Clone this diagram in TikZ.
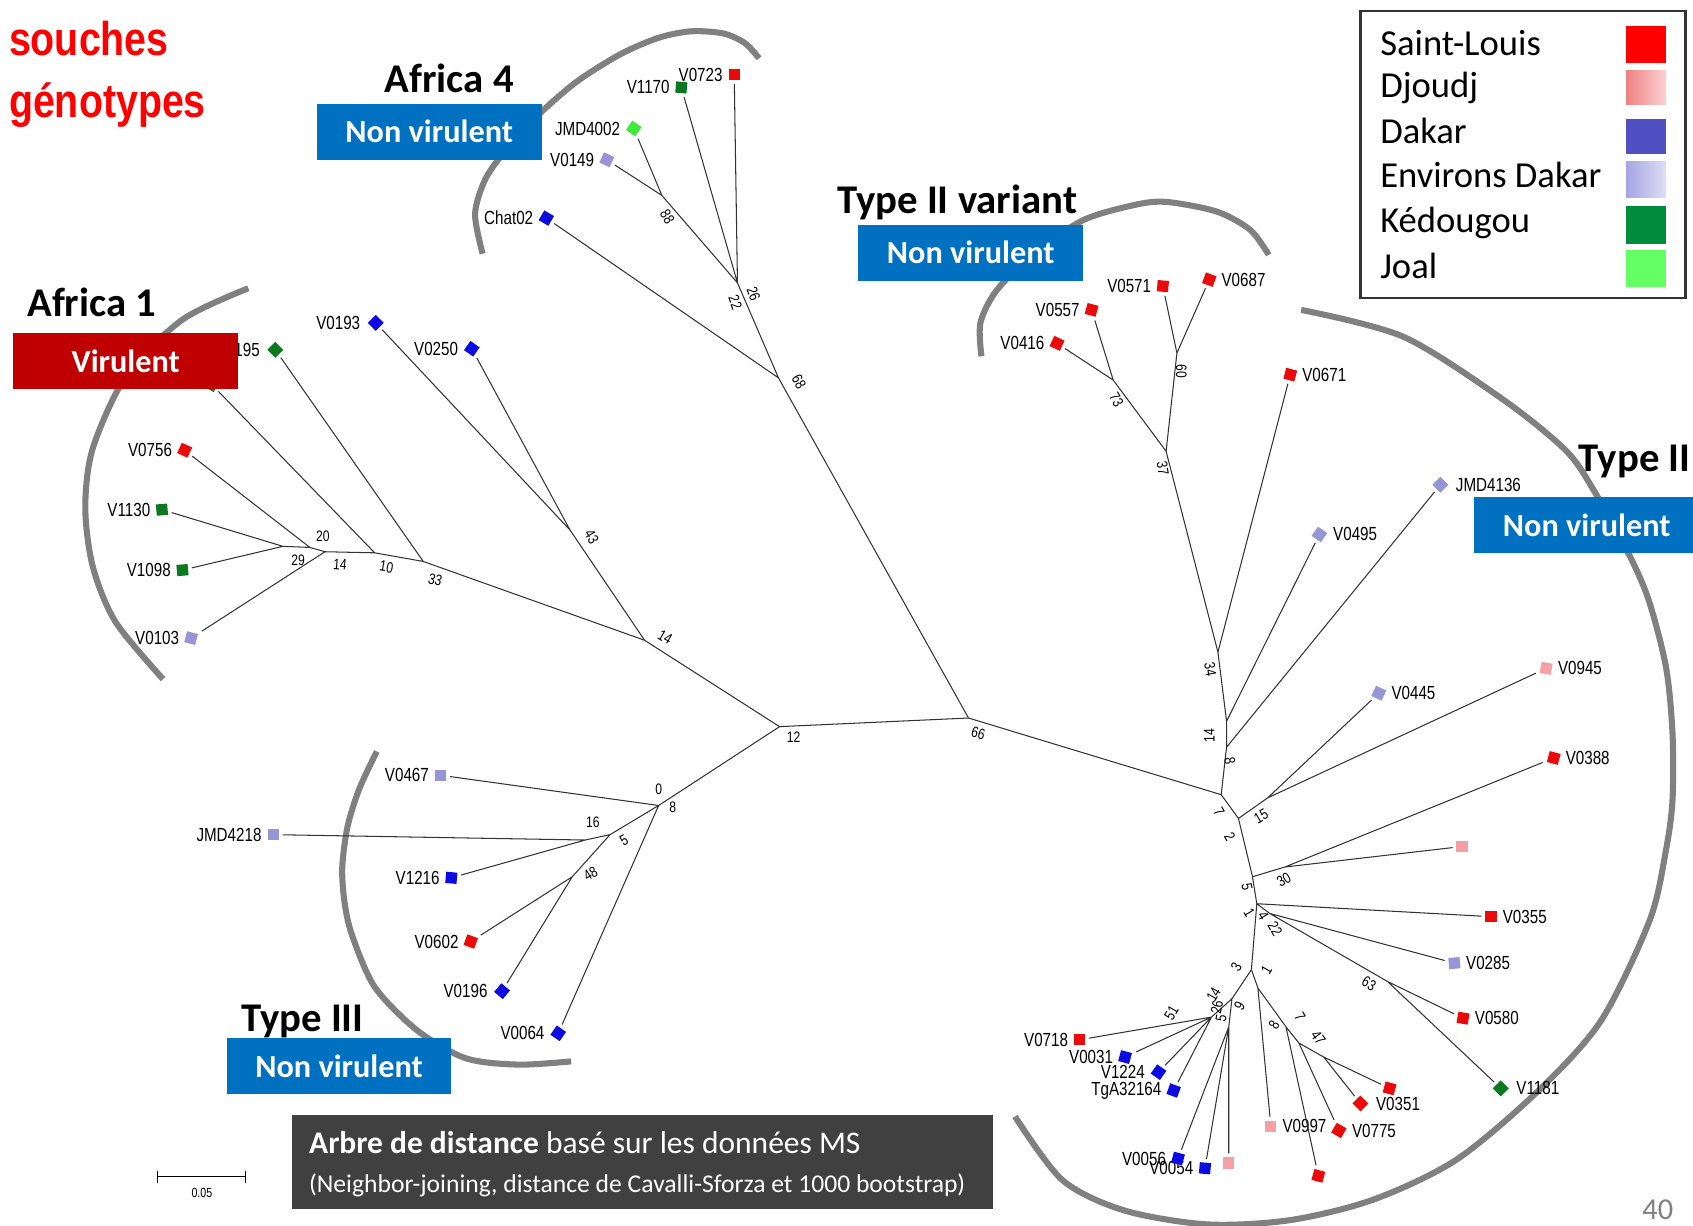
\documentclass[tikz,border=0pt]{standalone}
\usepackage{fontspec}
\setmainfont{Carlito}
\newfontfamily\leaffont[FakeStretch=0.8]{Liberation Sans}
\newfontfamily\condfont[FakeStretch=0.83]{Liberation Sans}
\usetikzlibrary{shapes.geometric}
\definecolor{slred}{RGB}{235,10,10}
\definecolor{djpink}{RGB}{245,160,165}
\definecolor{dkblue}{RGB}{10,10,225}
\definecolor{edlav}{RGB}{150,150,215}
\definecolor{kdgreen}{RGB}{10,120,30}
\definecolor{jogreen}{RGB}{60,235,60}
\definecolor{nvblue}{RGB}{0,112,192}
\definecolor{virred}{RGB}{192,0,0}
\definecolor{cladegray}{RGB}{128,128,128}
\definecolor{capgray}{RGB}{64,64,64}
\definecolor{legdjA}{RGB}{238,130,130}
\definecolor{legdjB}{RGB}{250,210,210}
\definecolor{legdk}{RGB}{80,80,195}
\definecolor{legedA}{RGB}{165,165,228}
\definecolor{legedB}{RGB}{222,222,245}
\definecolor{legkd}{RGB}{0,140,60}
\definecolor{legjo}{RGB}{100,255,100}
\tikzset{
	mk/.style={regular polygon, regular polygon sides=4, minimum size=8.4pt, inner sep=0pt, outer sep=2pt},
	tilt/.style={shape border rotate=45+#1},
	sl/.style={mk, fill=slred},
	dj/.style={mk, fill=djpink},
	dk/.style={mk, fill=dkblue},
	ed/.style={mk, fill=edlav},
	kd/.style={mk, fill=kdgreen},
	jo/.style={mk, fill=jogreen},
	lab/.style={font=\leaffont\fontsize{10}{10}\selectfont, inner sep=1pt},
	bs/.style={font=\leaffont\fontsize{8}{8}\selectfont, inner sep=0pt},
	br/.style={line width=0.55pt, black!80},
	clade/.style={line width=3.2pt, cladegray},
	nvbox/.style={fill=nvblue, text=white, font=\bfseries\fontsize{17}{17}\selectfont, minimum width=118.5pt, minimum height=29.5pt, inner sep=0pt},
	virbox/.style={nvbox, fill=virred},
	ttl/.style={font=\bfseries\fontsize{21.5}{22}\selectfont, anchor=base west, inner sep=0pt},
	legtxt/.style={font=\fontsize{19.3}{19}\selectfont, anchor=base west, inner sep=0pt}
}
\begin{document}
\begin{tikzpicture}[x=0.02cm, y=-0.02cm]
	\useasboundingbox (0,0) rectangle (1568,1135);
	% clade brackets
	\draw[clade] plot[smooth] coordinates {(230,267) (169,296) (117,348) (86,415) (79,470) (86,525) (107,576) (151,629)};
	\draw[clade] plot[smooth] coordinates {(447,235) (440,198) (450,165) (471,136) (500,105) (535,75) (575,50) (610,35) (640,29) (670,31) (690,40) (703,54)};
	\draw[clade] plot[smooth] coordinates {(909,330) (908,299) (923,269) (957,235) (1003,204) (1050,190) (1080,187) (1127,196) (1158,213) (1175,236)};
	\draw[clade] plot[smooth] coordinates {(349,696) (333,730) (322,765) (317,803) (319,835) (326,866) (347,914) (386,954) (431,980) (480,986) (529,983)};
	\draw[clade] plot[smooth] coordinates {(1205,287) (1300,312) (1392,370) (1450,417) (1476,454) (1508,512) (1527,556) (1543,618) (1549,679) (1549,741) (1543,787) (1528,852) (1483,945) (1425,1010) (1349,1074) (1272,1111) (1195,1130) (1118,1134) (1041,1121) (984,1093) (940,1034)};

	% inner nodes
	\coordinate (n12) at (722,673);
	\coordinate (n66) at (897,665);
	\coordinate (n14) at (597,593);
	\coordinate (n43) at (528,491);
	\coordinate (n68) at (721,350);
	\coordinate (a1) at (262,506);
	\coordinate (a2) at (287,507);
	\coordinate (a3) at (301,511);
	\coordinate (a4) at (347,512);
	\coordinate (a5) at (392,520);
	\coordinate (b88) at (613,181);
	\coordinate (b26) at (683,262);
	\coordinate (c73) at (1031,352);
	\coordinate (c60) at (1090,327);
	\coordinate (c37) at (1080,418);
	\coordinate (c34) at (1128,604);
	\coordinate (c14) at (1136,668);
	\coordinate (c8) at (1136,692);
	\coordinate (n7) at (1131,736);
	\coordinate (n2) at (1147,758);
	\coordinate (d15) at (1174,739);
	\coordinate (d30) at (1190,803);
	\coordinate (n5) at (1160,812);
	\coordinate (n4) at (1164,837);
	\coordinate (d22) at (1176,846);
	\coordinate (d63) at (1285,909);
	\coordinate (n3) at (1159,898);
	\coordinate (e6) at (1141,925);
	\coordinate (eK) at (1122,942);
	\coordinate (e9) at (1138,951);
	\coordinate (f1) at (1165,915);
	\coordinate (f8) at (1191,951);
	\coordinate (f7) at (1203,966);
	\coordinate (f47) at (1226,979);
	\coordinate (g0) at (610,746);
	\coordinate (g16) at (565,773);
	\coordinate (gJ) at (542,778);
	\coordinate (g48) at (530,812);

	% Africa 1
	\node[kd, tilt=15] (hid) at (196,356) {};
	\node[kd, tilt=0, label={[lab]left:195}] (v195) at (255,324) {};
	\node[sl, tilt=20, label={[lab]left:V0756}] (v0756) at (171,417) {};
	\node[kd, tilt=50, label={[lab]left:V1130}] (v1130) at (150,472) {};
	\node[kd, tilt=50, label={[lab]left:V1098}] (v1098) at (169,528) {};
	\node[ed, tilt=30, label={[lab]left:V0103}] (v0103) at (177,591) {};
	\node[dk, tilt=0, label={[lab]left:V0193}] (v0193) at (348,299) {};
	\node[dk, tilt=10, label={[lab]left:V0250}] (v0250) at (437,323) {};
	% Africa 4
	\node[dk, tilt=15, label={[lab]left:Chat02}] (chat02) at (506,202) {};
	\node[ed, tilt=20, label={[lab]left:V0149}] (v0149) at (562,148) {};
	\node[jo, tilt=10, label={[lab]left:JMD4002}] (jmd4002) at (587,119) {};
	\node[sl, tilt=45, label={[lab]left:V0723}] (v0723) at (680,69) {};
	\node[kd, tilt=40, label={[lab]left:V1170}] (v1170) at (631,81) {};
	% Type II variant
	\node[sl, tilt=20, label={[lab]left:V0416}] (v0416) at (979,318) {};
	\node[sl, tilt=30, label={[lab]left:V0557}] (v0557) at (1011,287) {};
	\node[sl, tilt=40, label={[lab]left:V0571}] (v0571) at (1077,265) {};
	\node[sl, tilt=25, label={[lab]right:V0687}] (v0687) at (1120,259) {};
	% Type II
	\node[sl, tilt=30, label={[lab]right:V0671}] (v0671) at (1195,347) {};
	\node[ed, tilt=0, label={[lab]right:JMD4136}] (jmd4136) at (1334,449) {};
	\node[ed, tilt=10, label={[lab]right:V0495}] (v0495) at (1222,495) {};
	\node[ed, tilt=20, label={[lab]right:V0445}] (v0445) at (1277,642) {};
	\node[dj, tilt=35, label={[lab]right:V0945}] (v0945) at (1432,619) {};
	\node[sl, tilt=30, label={[lab]right:V0388}] (v0388) at (1439,702) {};
	\node[dj, tilt=45] (djx1) at (1354,784) {};
	\node[sl, tilt=45, label={[lab]right:V0355}] (v0355) at (1381,849) {};
	\node[ed, tilt=50, label={[lab]right:V0285}] (v0285) at (1347,892) {};
	\node[sl, tilt=35, label={[lab]right:V0580}] (v0580) at (1355,943) {};
	\node[kd, tilt=0, label={[lab]right:V1181}] (v1181) at (1390,1008) {};
	\node[sl, tilt=30] (slx1) at (1287,1008) {};
	\node[sl, tilt=0, label={[lab]right:V0351}] (v0351) at (1260,1022) {};
	\node[sl, tilt=15, label={[lab]right:V0775}] (v0775) at (1240,1047) {};
	\node[sl, tilt=30] (slx2) at (1221,1089) {};
	\node[dj, tilt=45, label={[lab]right:V0997}] (v0997) at (1177,1043) {};
	\node[dj, tilt=45] (djx2) at (1138,1077) {};
	\node[dk, tilt=40, label={[lab]left:V0054}] (v0054) at (1116,1082) {};
	\node[dk, tilt=30, label={[lab]left:V0056}] (v0056) at (1091,1073) {};
	\node[dk, tilt=25, label={[lab]left:TgA32164}] (tga) at (1087,1010) {};
	\node[dk, tilt=10, label={[lab]left:V1224}] (v1224) at (1073,993) {};
	\node[dk, tilt=30, label={[lab]left:V0031}] (v0031) at (1042,979) {};
	\node[sl, tilt=45, label={[lab]left:V0718}] (v0718) at (1000,963) {};
	% Type III
	\node[ed, tilt=45, label={[lab]left:V0467}] (v0467) at (408,718) {};
	\node[ed, tilt=45, label={[lab]left:JMD4218}] (jmd4218) at (253,773) {};
	\node[dk, tilt=40, label={[lab]left:V1216}] (v1216) at (418,813) {};
	\node[sl, tilt=25, label={[lab]left:V0602}] (v0602) at (436,872) {};
	\node[dk, tilt=5, label={[lab]left:V0196}] (v0196) at (465,918) {};
	\node[dk, tilt=10, label={[lab]left:V0064}] (v0064) at (517,957) {};

	% branches
	\draw[br] (v1130) -- (a1) (v1098) -- (a1) -- (a2) (v0756) -- (a2) -- (a3) (v0103) -- (a3) -- (a4) (hid) -- (a4) -- (a5) (v195) -- (a5) -- (n14);
	\draw[br] (v0193) -- (n43) (v0250) -- (n43) -- (n14) -- (n12) -- (n66);
	\draw[br] (v0149) -- (b88) (jmd4002) -- (b88) -- (b26) (v1170) -- (b26) (v0723) -- (b26) -- (n68) (chat02) -- (n68) -- (n66);
	\draw[br] (v0416) -- (c73) (v0557) -- (c73) -- (c37) (v0571) -- (c60) (v0687) -- (c60) -- (c37) -- (c34) (v0671) -- (c34) -- (c14) (v0495) -- (c14) -- (c8) (jmd4136) -- (c8) -- (n7) -- (n66);
	\draw[br] (n7) -- (n2) -- (d15) (v0445) -- (d15) (v0945) -- (d15);
	\draw[br] (n2) -- (n5) (v0388) -- (d30) (djx1) -- (d30) -- (n5) -- (n4) (v0355) -- (n4) (v0285) -- (d22) (v0580) -- (d63) (v1181) -- (d63) -- (d22) -- (n4) -- (n3);
	\draw[br] (n3) -- (e6) -- (eK) (v0718) -- (eK) (v0031) -- (eK) (v1224) -- (eK) (tga) -- (eK) (e6) -- (e9) (v0056) -- (e9) (v0054) -- (e9) (djx2) -- (e9);
	\draw[br] (n3) -- (f1) (v0997) -- (f1) -- (f8) (slx2) -- (f8) -- (f7) (v0775) -- (f7) -- (f47) (v0351) -- (f47) (slx1) -- (f47);
	\draw[br] (n12) -- (g0) (v0467) -- (g0) (v0064) -- (g0) -- (g16) -- (gJ) (jmd4218) -- (gJ) (v1216) -- (gJ) (g16) -- (g48) (v0602) -- (g48) (v0196) -- (g48);

	% bootstrap values
	\node[bs] (s20) at (299,497) {20};
	\node[bs] (s29) at (276,519) {29};
	\node[bs, rotate=-5] (s14a) at (315,523) {14};
	\node[bs, rotate=-10] (s10) at (358,525) {10};
	\node[bs, rotate=-15] (s33) at (403,537) {33};
	\node[bs, rotate=-60] (s43) at (548,497) {43};
	\node[bs, rotate=-30] (s14b) at (616,590) {14};
	\node[bs, rotate=-60] (s68) at (740,354) {68};
	\node[bs, rotate=-60] (s88) at (618,201) {88};
	\node[bs, rotate=-70] (s26a) at (698,272) {26};
	\node[bs, rotate=-70] (s22a) at (681,280) {22};
	\node[bs] (s12) at (735,683) {12};
	\node[bs, rotate=-15] (s66) at (906,679) {66};
	\node[bs] (s0) at (610,731) {0};
	\node[bs] (s8a) at (623,748) {8};
	\node[bs] (s16) at (549,762) {16};
	\node[bs, rotate=30] (s5a) at (578,778) {5};
	\node[bs, rotate=30] (s48) at (547,809) {48};
	\node[bs, rotate=-60] (s73) at (1034,370) {73};
	\node[bs, rotate=-90] (s60) at (1094,344) {60};
	\node[bs, rotate=-80] (s37) at (1077,434) {37};
	\node[bs, rotate=-80] (s34) at (1121,620) {34};
	\node[bs, rotate=90] (s14c) at (1120,681) {14};
	\node[bs, rotate=-80] (s8b) at (1139,705) {8};
	\node[bs, rotate=-60] (s7a) at (1129,752) {7};
	\node[bs, rotate=-60] (s2) at (1139,775) {2};
	\node[bs, rotate=30] (s15) at (1168,756) {15};
	\node[bs, rotate=30] (s30) at (1189,815) {30};
	\node[bs, rotate=-80] (s5b) at (1155,821) {5};
	\node[bs, rotate=-60] (s1a) at (1157,845) {1};
	\node[bs, rotate=-60] (s4) at (1170,848) {4};
	\node[bs, rotate=-60] (s22b) at (1181,860) {22};
	\node[bs, rotate=-30] (s63) at (1268,911) {63};
	\node[bs, rotate=60] (s3) at (1145,896) {3};
	\node[bs, rotate=60] (s1b) at (1173,898) {1};
	\node[bs, rotate=60] (s14d) at (1124,921) {14};
	\node[bs, rotate=80] (s26b) at (1127,933) {26};
	\node[bs, rotate=80] (s5c) at (1131,943) {5};
	\node[bs, rotate=60] (s51) at (1085,938) {51};
	\node[bs, rotate=60] (s9) at (1148,932) {9};
	\node[bs, rotate=60] (s8c) at (1180,949) {8};
	\node[bs, rotate=-60] (s7b) at (1204,942) {7};
	\node[bs, rotate=-55] (s47) at (1221,961) {47};

	% group boxes and titles
	\node[nvbox] (a4nv) at (397.5,122) {Non virulent};
	\node[virbox] (a1vir) at (116.5,334.5) {Virulent};
	\node[nvbox] (t2vnv) at (899,234) {Non virulent};
	\node[nvbox] (t2nv) at (1469.5,486.5) {Non virulent};
	\node[nvbox] (t3nv) at (314,987.5) {Non virulent};
	\node[ttl] (a4t) at (356,86) {Africa 4};
	\node[ttl] (a1t) at (25,293) {Africa 1};
	\node[ttl] (t2vt) at (775,198) {Type II variant};
	\node[ttl] (t2t) at (1462,437) {Type II};
	\node[ttl] (t3t) at (223,955) {Type III};

	% top left
	\node[anchor=base west, inner sep=0pt, text=red, font=\condfont\bfseries\fontsize{25}{25}\selectfont] (souches) at (8,51) {souches};
	\node[anchor=base west, inner sep=0pt, text=red, font=\condfont\bfseries\fontsize{25}{25}\selectfont] (genos) at (8,109) {génotypes};

	% legend
	\draw[line width=1.2pt, black!80] (1260,10) rectangle (1561,276);
	\node[legtxt] (lsl) at (1278,51) {Saint-Louis};
	\node[legtxt] (ldj) at (1278,90) {Djoudj};
	\node[legtxt] (ldk) at (1278,133) {Dakar};
	\node[legtxt] (led) at (1278,174) {Environs Dakar};
	\node[legtxt] (lkd) at (1278,215) {Kédougou};
	\node[legtxt] (ljo) at (1278,258) {Joal};
	\fill[red] (1506,24) rectangle (1543,58);
	\shade[left color=legdjA, right color=legdjB] (1506,65) rectangle (1543,97);
	\fill[legdk] (1506,110) rectangle (1543,143);
	\shade[left color=legedA, right color=legedB] (1506,150) rectangle (1543,183);
	\fill[legkd] (1506,191) rectangle (1543,226);
	\fill[legjo] (1506,232) rectangle (1543,266);

	% caption and scale
	\fill[capgray] (270,1033) rectangle (920,1120);
	\node[anchor=base west, inner sep=0pt, text=white, font=\fontsize{16.6}{17}\selectfont] (cap1) at (286,1068) {\textbf{Arbre de distance} basé sur les données MS};
	\node[anchor=base west, inner sep=0pt, text=white, font=\fontsize{13.5}{14}\selectfont] (cap2) at (286,1104) {(Neighbor-joining, distance de Cavalli-Sforza et 1000 bootstrap)};
	\coordinate (sbl) at (145,1090);
	\coordinate (sbr) at (228,1090);
	\draw[|-|, line width=0.6pt] (sbl) -- (sbr);
	\node[font=\leaffont\fontsize{7}{7}\selectfont] (sbt) at (187,1105) {0.05};
	\node[anchor=base east, inner sep=0pt, text=gray, font=\fontsize{16}{16}\selectfont] (pgno) at (1550,1129) {40};
\end{tikzpicture}
\end{document}
